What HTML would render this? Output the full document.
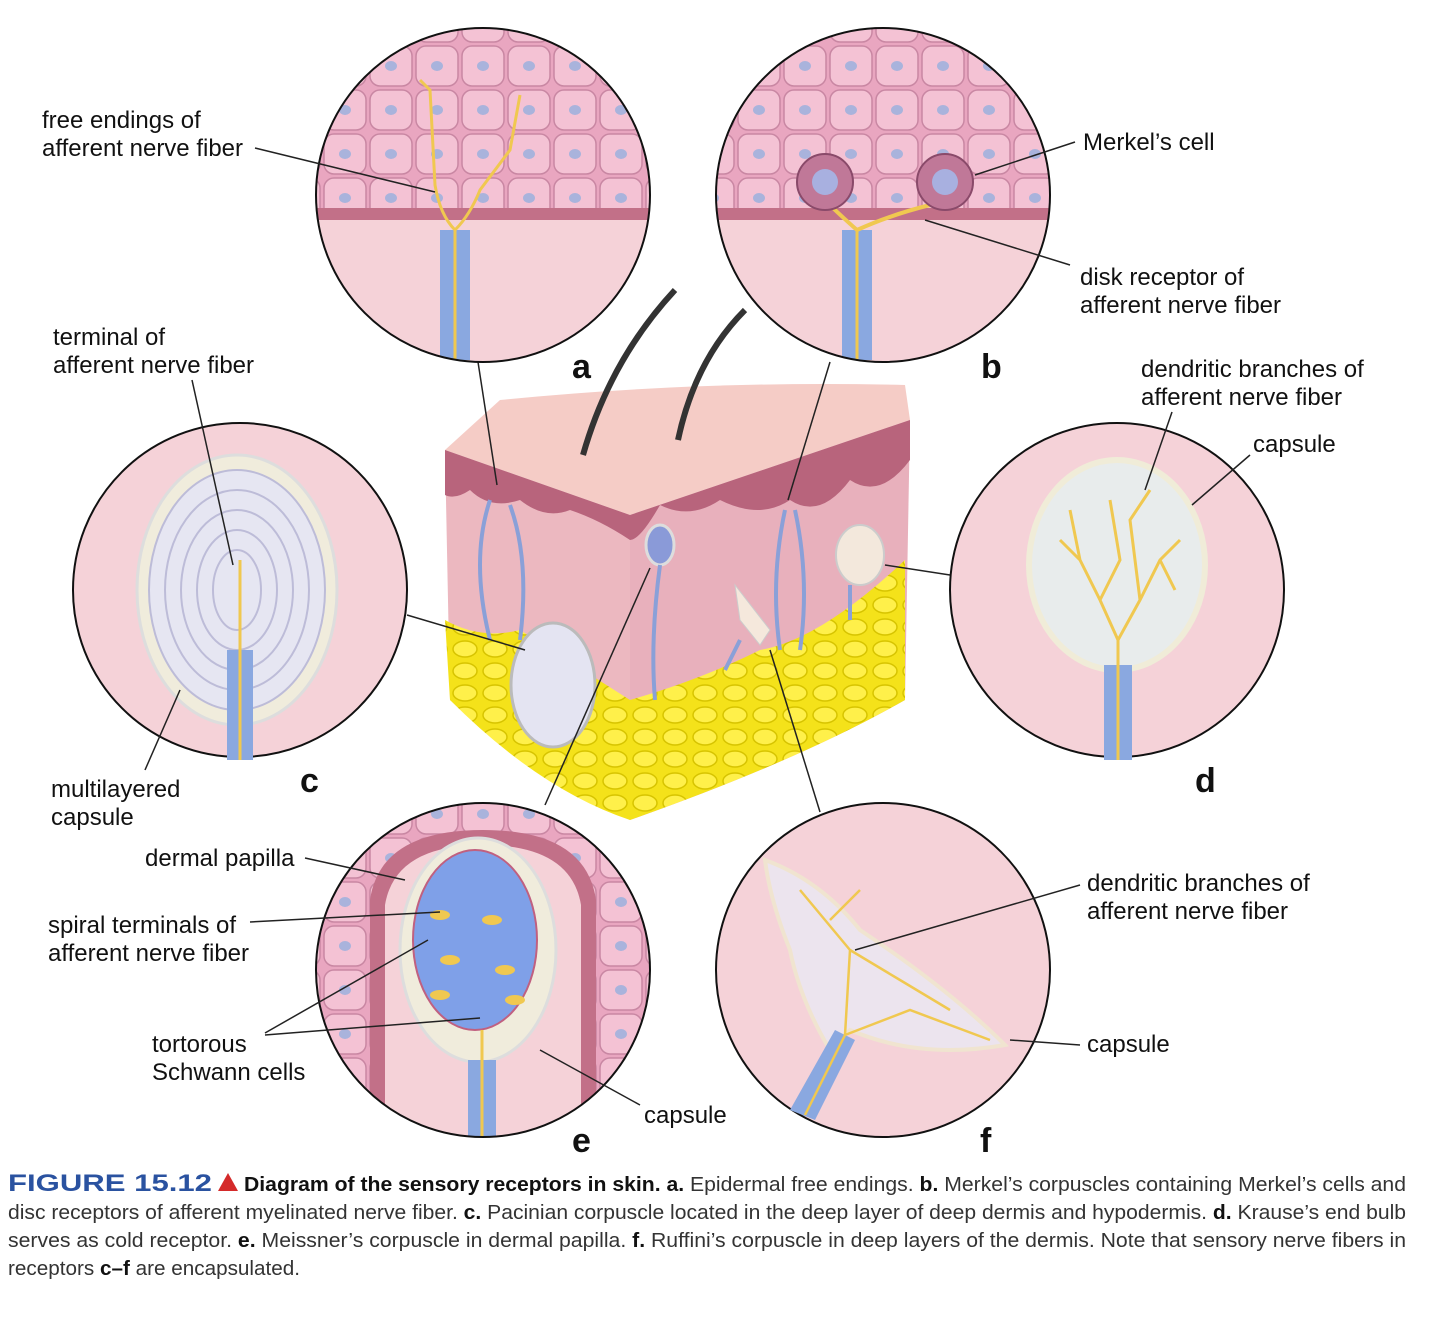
<!DOCTYPE html>
<html><head><meta charset="utf-8"><style>
html,body{margin:0;padding:0;background:#fff}
svg{display:block}
text{font-family:"Liberation Sans",sans-serif}
</style></head><body>
<svg width="1440" height="1322" viewBox="0 0 1440 1322" xmlns="http://www.w3.org/2000/svg">
<defs>
<pattern id="cells" width="46" height="44" patternUnits="userSpaceOnUse">
<rect width="46" height="44" fill="#e9a6c0"/>
<rect x="2" y="2" width="42" height="40" rx="10" fill="#f4c2d4" stroke="#c987a3" stroke-width="1.5"/>
<ellipse cx="23" cy="22" rx="6" ry="5" fill="#a9b3dc"/>
</pattern>
<pattern id="fat" width="30" height="22" patternUnits="userSpaceOnUse">
<rect width="30" height="22" fill="#f4e21a"/>
<ellipse cx="15" cy="11" rx="12" ry="8" fill="#fff04a" stroke="#d7c400" stroke-width="1.5"/>
</pattern>
<clipPath id="ca"><circle cx="483" cy="195" r="167"/></clipPath>
<clipPath id="cb"><circle cx="883" cy="195" r="167"/></clipPath>
<clipPath id="ce"><circle cx="483" cy="970" r="167"/></clipPath>
</defs>
<rect width="1440" height="1322" fill="#fff"/>

<!-- skin block -->
<path d="M445 450 L500 400 Q700 380 905 385 L910 420 L630 515 Z" fill="#f5ccc6"/>
<path d="M445 450 L630 515 L630 820 Q540 770 450 700 Z" fill="#ecb8c0"/>
<path d="M630 515 L910 420 L905 700 Q800 760 630 820 Z" fill="#e8b0bc"/>
<path d="M445 450 L630 515 L910 420 L910 460 Q880 500 850 480 Q820 520 790 500 Q760 520 720 500 Q690 520 660 505 Q640 540 630 540 Q600 520 570 510 Q545 520 520 500 Q490 510 470 490 Q455 500 445 495 Z" fill="#b8647c"/>
<path d="M445 620 Q480 640 520 630 L630 700 L630 820 Q540 790 450 700 Z" fill="url(#fat)"/>
<path d="M630 700 Q700 680 760 650 Q820 640 905 560 L905 700 Q800 760 630 820 Z" fill="url(#fat)"/>
<path d="M583 455 Q610 360 675 290" stroke="#333" stroke-width="6" fill="none"/>
<path d="M678 440 Q695 360 745 310" stroke="#333" stroke-width="6" fill="none"/>
<ellipse cx="553" cy="685" rx="42" ry="62" fill="#e4e4f2" stroke="#bbb" stroke-width="3"/>
<ellipse cx="660" cy="545" rx="14" ry="20" fill="#8a9ad8" stroke="#ddd" stroke-width="3"/>
<ellipse cx="860" cy="555" rx="24" ry="30" fill="#f3e8dc" stroke="#ccc" stroke-width="2"/>
<path d="M735 585 L770 630 L760 645 L740 620 Z" fill="#f5e8dc" stroke="#ccc"/>
<g stroke="#8aa0d8" stroke-width="4" fill="none">
<path d="M490 500 Q470 560 490 640"/><path d="M510 505 Q530 560 520 640"/>
<path d="M660 565 Q650 640 655 700"/><path d="M785 510 Q770 580 780 650"/><path d="M795 510 Q810 580 800 650"/>
<path d="M850 585 L850 620"/><path d="M740 640 L725 670"/>
</g>
<g stroke="#222" stroke-width="1.5" fill="none">
<line x1="478" y1="362" x2="497" y2="485"/>
<line x1="830" y1="362" x2="788" y2="500"/>
<line x1="407" y1="615" x2="525" y2="650"/>
<line x1="885" y1="565" x2="950" y2="575"/>
<line x1="650" y1="568" x2="545" y2="805"/>
<line x1="770" y1="650" x2="820" y2="812"/>
</g>

<!-- circle a -->
<g clip-path="url(#ca)">
<rect x="310" y="20" width="350" height="350" fill="#f5d2d8"/>
<rect x="310" y="20" width="350" height="195" fill="url(#cells)"/>
<rect x="310" y="208" width="350" height="12" fill="#c27088"/>
<path d="M440 230 L440 360 L470 360 L470 230 Z" fill="#8aa8e0"/>
<path d="M455 230 L455 360" stroke="#f0c850" stroke-width="3"/>
<path d="M455 230 Q440 215 435 185 L430 90 L420 80 M455 230 Q470 215 480 190 L510 150 L520 95" stroke="#f0c850" stroke-width="3" fill="none"/>
</g>
<circle cx="483" cy="195" r="167" fill="none" stroke="#111" stroke-width="2"/>
<!-- circle b -->
<g clip-path="url(#cb)">
<rect x="710" y="20" width="350" height="350" fill="#f5d2d8"/>
<rect x="710" y="20" width="350" height="195" fill="url(#cells)"/>
<rect x="710" y="208" width="350" height="12" fill="#c27088"/>
<path d="M842 230 L842 360 L872 360 L872 230 Z" fill="#8aa8e0"/>
<path d="M857 230 L857 360" stroke="#f0c850" stroke-width="3"/>
<path d="M857 230 Q840 215 830 205 M857 230 Q890 215 930 205" stroke="#f0c850" stroke-width="4" fill="none"/>
<circle cx="825" cy="182" r="28" fill="#c07898" stroke="#8a4a6a" stroke-width="2"/>
<circle cx="825" cy="182" r="13" fill="#a8b0e0"/>
<circle cx="945" cy="182" r="28" fill="#c07898" stroke="#8a4a6a" stroke-width="2"/>
<circle cx="945" cy="182" r="13" fill="#a8b0e0"/>
</g>
<circle cx="883" cy="195" r="167" fill="none" stroke="#111" stroke-width="2"/>
<!-- circle c -->
<circle cx="240" cy="590" r="167" fill="#f5d2d8" stroke="#111" stroke-width="2"/>
<ellipse cx="237" cy="590" rx="100" ry="135" fill="#f0ecdc" stroke="#ddd" stroke-width="3"/>
<g fill="none" stroke="#bdbcd8" stroke-width="2">
<ellipse cx="237" cy="590" rx="88" ry="120" fill="#e6e6f2"/>
<ellipse cx="237" cy="590" rx="72" ry="100"/><ellipse cx="237" cy="590" rx="56" ry="80"/>
<ellipse cx="237" cy="590" rx="40" ry="60"/><ellipse cx="237" cy="590" rx="24" ry="40"/>
</g>
<rect x="227" y="650" width="26" height="110" fill="#8aa8e0"/>
<path d="M240 560 L240 760" stroke="#f0c850" stroke-width="3"/>
<!-- circle d -->
<circle cx="1117" cy="590" r="167" fill="#f5d2d8" stroke="#111" stroke-width="2"/>
<ellipse cx="1117" cy="565" rx="88" ry="105" fill="#e8ecec" stroke="#f0ecd8" stroke-width="6"/>
<rect x="1104" y="665" width="28" height="95" fill="#8aa8e0"/>
<g stroke="#f0c850" stroke-width="3" fill="none">
<path d="M1118 760 L1118 640 L1100 600 L1080 560 L1060 540 M1118 640 L1140 600 L1160 560 L1180 540 M1100 600 L1120 560 L1110 500 M1140 600 L1130 520 L1150 490 M1080 560 L1070 510 M1160 560 L1175 590"/>
</g>
<!-- circle e -->
<g clip-path="url(#ce)">
<rect x="310" y="800" width="350" height="350" fill="url(#cells)"/>
<path d="M370 1140 L370 900 Q380 830 483 830 Q586 830 596 900 L596 1140 Z" fill="#c27088"/>
<path d="M385 1140 L385 905 Q395 845 483 845 Q571 845 581 905 L581 1140 Z" fill="#f5d2d8"/>
<ellipse cx="478" cy="950" rx="78" ry="112" fill="#f0ecdc" stroke="#ddd" stroke-width="3"/>
<ellipse cx="475" cy="940" rx="62" ry="90" fill="#7fa0e8" stroke="#c06080" stroke-width="2"/>
<g fill="#f0c850"><ellipse cx="440" cy="915" rx="10" ry="5"/><ellipse cx="492" cy="920" rx="10" ry="5"/><ellipse cx="450" cy="960" rx="10" ry="5"/><ellipse cx="505" cy="970" rx="10" ry="5"/><ellipse cx="440" cy="995" rx="10" ry="5"/><ellipse cx="515" cy="1000" rx="10" ry="5"/></g>
<rect x="468" y="1060" width="28" height="90" fill="#8aa8e0"/>
<path d="M482 1030 L482 1150" stroke="#f0c850" stroke-width="3"/>
</g>
<circle cx="483" cy="970" r="167" fill="none" stroke="#111" stroke-width="2"/>
<!-- circle f -->
<circle cx="883" cy="970" r="167" fill="#f5d2d8" stroke="#111" stroke-width="2"/>
<path d="M765 860 Q820 880 860 930 Q950 990 1005 1045 Q920 1060 850 1030 L830 1050 Q800 1000 790 950 Q770 900 765 860 Z" fill="#ece4ee" stroke="#f0e4d0" stroke-width="4"/>
<path d="M790 1110 L835 1030 L855 1040 L815 1120 Z" fill="#8aa8e0"/>
<g stroke="#f0c850" stroke-width="2.5" fill="none">
<path d="M805 1115 L845 1035 L850 950 L800 890 M845 1035 L910 1010 L990 1040 M850 950 L900 980 L950 1010 M830 920 L860 890"/>
</g>

<g stroke="#222" stroke-width="1.5" fill="none">
<line x1="255" y1="148" x2="435" y2="192"/>
<line x1="1075" y1="142" x2="975" y2="175"/>
<line x1="1070" y1="265" x2="925" y2="220"/>
<line x1="192" y1="380" x2="233" y2="565"/>
<line x1="1172" y1="412" x2="1145" y2="490"/>
<line x1="1250" y1="455" x2="1192" y2="505"/>
<line x1="145" y1="770" x2="180" y2="690"/>
<line x1="305" y1="858" x2="405" y2="880"/>
<line x1="250" y1="922" x2="440" y2="912"/>
<line x1="265" y1="1033" x2="428" y2="940"/>
<line x1="265" y1="1035" x2="480" y2="1018"/>
<line x1="640" y1="1105" x2="540" y2="1050"/>
<line x1="1080" y1="885" x2="855" y2="950"/>
<line x1="1080" y1="1045" x2="1010" y2="1040"/>
</g>

<g font-size="24" fill="#111">
<text x="42" y="128">free endings of</text>
<text x="42" y="156">afferent nerve fiber</text>
<text x="1083" y="150">Merkel’s cell</text>
<text x="1080" y="285">disk receptor of</text>
<text x="1080" y="313">afferent nerve fiber</text>
<text x="53" y="345">terminal of</text>
<text x="53" y="373">afferent nerve fiber</text>
<text x="1141" y="377">dendritic branches of</text>
<text x="1141" y="405">afferent nerve fiber</text>
<text x="1253" y="452">capsule</text>
<text x="51" y="797">multilayered</text>
<text x="51" y="825">capsule</text>
<text x="145" y="866">dermal papilla</text>
<text x="48" y="933">spiral terminals of</text>
<text x="48" y="961">afferent nerve fiber</text>
<text x="152" y="1052">tortorous</text>
<text x="152" y="1080">Schwann cells</text>
<text x="644" y="1123">capsule</text>
<text x="1087" y="891">dendritic branches of</text>
<text x="1087" y="919">afferent nerve fiber</text>
<text x="1087" y="1052">capsule</text>
</g>
<g font-size="34" font-weight="bold" fill="#111">
<text x="572" y="378">a</text>
<text x="981" y="378">b</text>
<text x="300" y="792">c</text>
<text x="1195" y="792">d</text>
<text x="572" y="1152">e</text>
<text x="980" y="1152">f</text>
</g>

<g font-size="20" fill="#333">
<text x="8" y="1191" font-size="24" fill="#2a52a0" font-weight="bold" textLength="204" lengthAdjust="spacingAndGlyphs">FIGURE 15.12</text>
<polygon points="218,1191 228,1173 238,1191" fill="#d42a2a"/>
<text x="244" y="1191" textLength="1162" lengthAdjust="spacingAndGlyphs"><tspan font-weight="bold" fill="#111">Diagram of the sensory receptors in skin. a.</tspan> Epidermal free endings. <tspan font-weight="bold" fill="#111">b.</tspan> Merkel’s corpuscles containing Merkel’s cells and</text>
<text x="8" y="1219" textLength="1398" lengthAdjust="spacingAndGlyphs">disc receptors of afferent myelinated nerve fiber. <tspan font-weight="bold" fill="#111">c.</tspan> Pacinian corpuscle located in the deep layer of deep dermis and hypodermis. <tspan font-weight="bold" fill="#111">d.</tspan> Krause’s end bulb</text>
<text x="8" y="1247" textLength="1398" lengthAdjust="spacingAndGlyphs">serves as cold receptor. <tspan font-weight="bold" fill="#111">e.</tspan> Meissner’s corpuscle in dermal papilla. <tspan font-weight="bold" fill="#111">f.</tspan> Ruffini’s corpuscle in deep layers of the dermis. Note that sensory nerve fibers in</text>
<text x="8" y="1275" textLength="292" lengthAdjust="spacingAndGlyphs">receptors <tspan font-weight="bold" fill="#111">c–f</tspan> are encapsulated.</text>
</g>
</svg>
</body></html>
